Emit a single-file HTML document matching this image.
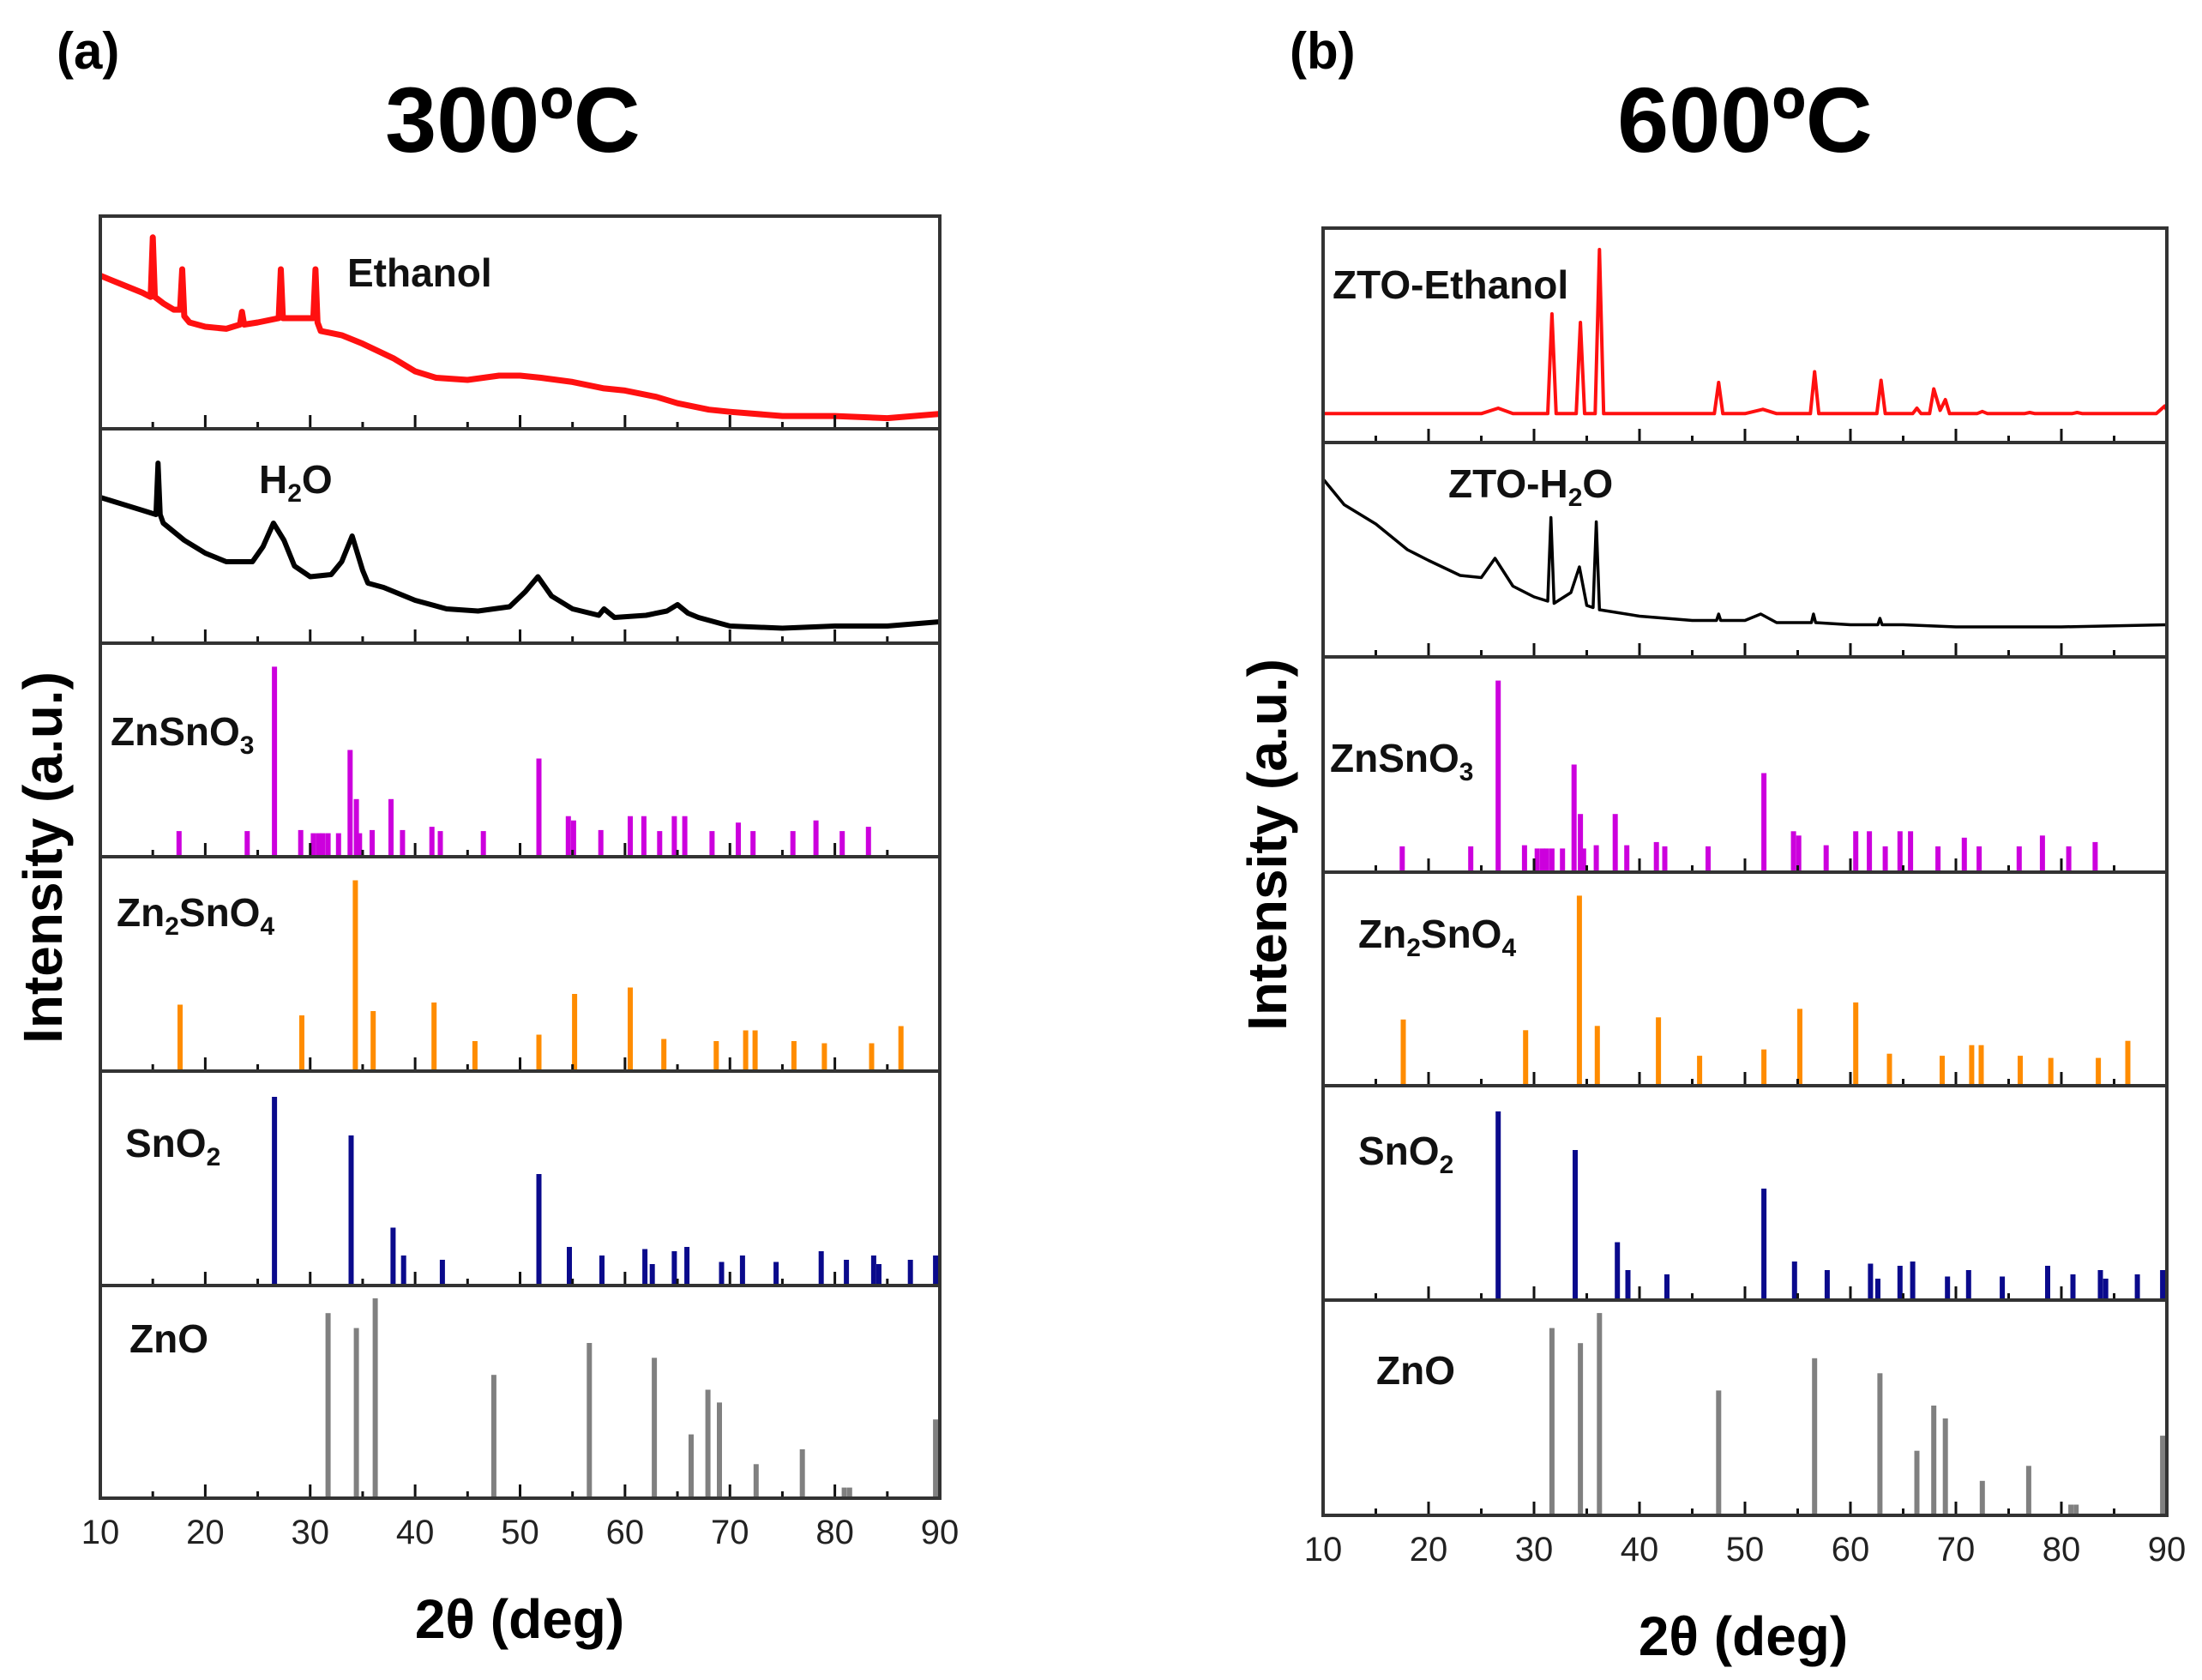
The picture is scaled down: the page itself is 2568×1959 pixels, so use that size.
<!DOCTYPE html>
<html><head><meta charset="utf-8"><style>
html,body{margin:0;padding:0;background:#fff;}
svg{display:block;font-family:"Liberation Sans",sans-serif;}
</style></head><body>
<svg id="fig" width="2568" height="1959" viewBox="0 0 2568 1959" xmlns="http://www.w3.org/2000/svg">
<g font-weight="bold" fill="#000">
<text x="66" y="80" font-size="60">(a)</text>
<text x="598" y="177" font-size="108" text-anchor="middle">300ºC</text>
<text transform="translate(72,1000) rotate(-90)" font-size="64" text-anchor="middle">Intensity (a.u.)</text>
<text x="606" y="1910" font-size="64" text-anchor="middle">2θ (deg)</text>
</g>
<g font-weight="bold" fill="#000">
<text x="1504" y="80" font-size="60">(b)</text>
<text x="2035" y="177" font-size="108" text-anchor="middle">600ºC</text>
<text transform="translate(1500,985) rotate(-90)" font-size="64" text-anchor="middle">Intensity (a.u.)</text>
<text x="2033" y="1930" font-size="64" text-anchor="middle">2θ (deg)</text>
</g>
</svg>
<script>
// ---- data ----
const xTicks = [10,20,30,40,50,60,70,80,90];
const znsno3Pos = [17.5,24,26.6,29.1,30.3,30.8,31.2,31.7,32.7,33.8,34.4,34.7,35.9,37.7,38.8,41.6,42.4,46.5,51.8,54.6,55.1,57.7,60.5,61.8,63.3,64.7,65.7,68.3,70.8,72.2,76,78.2,80.7,83.2];
const znsno3Int = [0.12,0.12,0.89,0.125,0.11,0.11,0.11,0.11,0.11,0.5,0.27,0.11,0.125,0.27,0.125,0.14,0.12,0.12,0.46,0.19,0.17,0.125,0.19,0.19,0.12,0.19,0.19,0.12,0.16,0.12,0.12,0.17,0.12,0.14];
const zn2sno4Pos = [17.6,29.2,34.3,36,41.8,45.7,51.8,55.2,60.5,63.7,68.7,71.5,72.4,76.1,79,83.5,86.3];
const zn2sno4Int = [0.31,0.26,0.89,0.28,0.32,0.14,0.17,0.36,0.39,0.15,0.14,0.19,0.19,0.14,0.13,0.13,0.21];
const sno2Pos = [26.6,33.9,37.9,38.9,42.6,51.8,54.7,57.8,61.9,62.6,64.7,65.9,69.2,71.2,74.4,78.7,81.1,83.7,84.2,87.2,89.6];
const sno2Int = [0.88,0.7,0.27,0.14,0.12,0.52,0.18,0.14,0.17,0.1,0.16,0.18,0.11,0.14,0.11,0.16,0.12,0.14,0.1,0.12,0.14];
const znoPos = [31.7,34.4,36.2,47.5,56.6,62.8,66.3,67.9,69,72.5,76.9,80.9,81.4,89.6];
const znoInt = [0.87,0.8,0.94,0.58,0.73,0.66,0.3,0.51,0.45,0.16,0.23,0.05,0.05,0.37];
const ethanol300X = [10,12,14,14.8,15,15.2,16,17,17.6,17.8,18,18.5,20,22,23.3,23.5,23.7,25,27,27.2,27.4,29,30.3,30.5,30.7,31,33,35,38,40,42,45,48,50,52,55,58,60,63,65,68,70,75,80,85,90];
const ethanol300Y = [0.72,0.68,0.64,0.62,0.9,0.62,0.59,0.56,0.56,0.75,0.53,0.5,0.48,0.47,0.49,0.55,0.49,0.5,0.52,0.75,0.52,0.52,0.52,0.75,0.5,0.46,0.44,0.4,0.33,0.27,0.24,0.23,0.25,0.25,0.24,0.22,0.19,0.18,0.15,0.12,0.09,0.08,0.06,0.06,0.05,0.07];
const water300X = [10,12,14,15.3,15.5,15.7,16,18,20,22,24.5,25.5,26.5,27.5,28.5,30,32,33,34,35,35.5,37,40,43,46,49,50.5,51.7,53,55,57.5,58,59,62,64,65,66,67,70,75,80,85,90];
const water300Y = [0.68,0.65,0.62,0.6,0.84,0.6,0.56,0.48,0.42,0.38,0.38,0.45,0.56,0.48,0.36,0.31,0.32,0.38,0.5,0.34,0.28,0.26,0.2,0.16,0.15,0.17,0.24,0.31,0.22,0.16,0.13,0.16,0.12,0.13,0.15,0.18,0.14,0.12,0.08,0.07,0.08,0.08,0.1];
const ethanol600X = [10,25,26.6,28,31.3,31.7,32.1,34,34.4,34.8,35.8,36.2,36.6,47.1,47.5,47.9,50,51.7,53,56.2,56.6,57,62.5,62.9,63.3,65.9,66.3,66.7,67.5,67.9,68.5,69,69.4,72,72.5,73,76.5,77,77.5,81,81.5,82,89,89.8,90];
const ethanol600Y = [0.135,0.135,0.16,0.135,0.135,0.6,0.135,0.135,0.56,0.135,0.135,0.9,0.135,0.135,0.28,0.135,0.135,0.155,0.135,0.135,0.33,0.135,0.135,0.29,0.135,0.135,0.16,0.135,0.135,0.25,0.15,0.2,0.135,0.135,0.145,0.135,0.135,0.14,0.135,0.135,0.14,0.135,0.135,0.17,0.15];
const water600X = [10,12,15,18,20,23,25,26.3,28,30,31.3,31.6,31.9,33.5,34.3,35,35.6,35.9,36.2,40,45,47.3,47.5,47.7,50,51.5,53,56.3,56.5,56.7,60,62.6,62.8,63,65,70,80,90];
const water600Y = [0.83,0.71,0.62,0.5,0.45,0.38,0.37,0.46,0.33,0.28,0.26,0.65,0.25,0.3,0.42,0.24,0.23,0.63,0.22,0.19,0.17,0.17,0.2,0.17,0.17,0.2,0.16,0.16,0.2,0.16,0.15,0.15,0.18,0.15,0.15,0.14,0.14,0.15];

const NS='http://www.w3.org/2000/svg';
const svg=document.getElementById('fig');
function mk(tag,attrs,parent){const e=document.createElementNS(NS,tag);for(const k in attrs)e.setAttribute(k,attrs[k]);(parent||svg).appendChild(e);return e;}

function drawPanel(px0,px1,bounds,prefix,curves,labels){
  const xs=v=>px0+(v-10)/80*(px1-px0);
  const g=mk('g',{});
  
  
  const sub=[];
  for(let i=0;i<6;i++){sub.push({top:bounds[i],bot:bounds[i+1]});}
  curves.forEach((c,i)=>{
    const s=sub[i],h=s.bot-s.top;
    let d='';
    c.x.forEach((v,j)=>{d+=(j?'L':'M')+xs(v).toFixed(1)+','+(s.bot-c.y[j]*h).toFixed(1);});
    const p=mk('path',{d:d,fill:'none',stroke:c.color,'stroke-width':c.w,'stroke-linejoin':'round'},g);
    
    
  });
  const refs=[
    {pos:znsno3Pos,inten:znsno3Int,color:'#cc00dd',name:'znsno3'},
    {pos:zn2sno4Pos,inten:zn2sno4Int,color:'#ff8c00',name:'zn2sno4'},
    {pos:sno2Pos,inten:sno2Int,color:'#0a0a8c',name:'sno2'},
    {pos:znoPos,inten:znoInt,color:'#808080',name:'zno'}];
  refs.forEach((r,k)=>{
    const s=sub[k+2],h=s.bot-s.top;
    r.pos.forEach((v,j)=>{
      const hh=r.inten[j]*h;
      const b=mk('rect',{x:(xs(v)-3).toFixed(1),y:(s.bot-hh).toFixed(1),width:6,height:hh.toFixed(1),fill:r.color},g);
      
      
    });
  });
  sub.forEach((s,i)=>{
    for(let v=15;v<90;v+=5){
      const L=(v%10===0)?16:8;
      const t=mk('line',{x1:xs(v),x2:xs(v),y1:s.bot,y2:s.bot-L,stroke:'#111','stroke-width':3},g);
      
      
    }
  });
  sub.forEach((s,i)=>{
    const r=mk('rect',{x:px0,y:s.top,width:px1-px0,height:s.bot-s.top,fill:'none',stroke:'#333','stroke-width':4},g);
    
    
  });
  xTicks.forEach(v=>{
    const t=mk('text',{x:xs(v),y:bounds[6]+53,'font-size':40,'text-anchor':'middle',fill:'#222'},g);
    t.textContent=v;
    
    
  });
  labels.forEach(l=>{
    const t=mk('text',{x:l.x,y:l.y,'font-size':46,'font-weight':'bold',fill:'#111'},g);
    
    
    // parts: strings; subscripts marked with leading '_'
    let shifted=false;
    l.parts.forEach(p=>{
      const ts=mk('tspan',{},t);
      if(p[0]==='_'){ts.setAttribute('font-size','30');ts.setAttribute('dy','10');ts.textContent=p.slice(1);shifted=true;}
      else{if(shifted){ts.setAttribute('dy','-10');shifted=false;}ts.textContent=p;}
    });
  });
}
drawPanel(117,1096,[252,500,750,999,1249,1499,1747],'panel-a',
 [{x:ethanol300X,y:ethanol300Y,color:'#ff1010',w:7,name:'ethanol'},
  {x:water300X,y:water300Y,color:'#000',w:6,name:'h2o'}],
 [{x:405,y:334,name:'ethanol',parts:['Ethanol']},
  {x:302,y:575,name:'h2o',parts:['H','_2','O']},
  {x:129,y:869,name:'znsno3',parts:['ZnSnO','_3']},
  {x:136,y:1080,name:'zn2sno4',parts:['Zn','_2','SnO','_4']},
  {x:146,y:1349,name:'sno2',parts:['SnO','_2']},
  {x:151,y:1577,name:'zno',parts:['ZnO']}]);
drawPanel(1543,2527,[266,516,766,1017,1266,1516,1767],'panel-b',
 [{x:ethanol600X,y:ethanol600Y,color:'#ff1010',w:4,name:'zto-ethanol'},
  {x:water600X,y:water600Y,color:'#000',w:3.5,name:'zto-h2o'}],
 [{x:1554,y:348,name:'zto-ethanol',parts:['ZTO-Ethanol']},
  {x:1689,y:580,name:'zto-h2o',parts:['ZTO-H','_2','O']},
  {x:1551,y:900,name:'znsno3',parts:['ZnSnO','_3']},
  {x:1584,y:1105,name:'zn2sno4',parts:['Zn','_2','SnO','_4']},
  {x:1584,y:1358,name:'sno2',parts:['SnO','_2']},
  {x:1605,y:1614,name:'zno',parts:['ZnO']}]);
</script>
</body></html>
